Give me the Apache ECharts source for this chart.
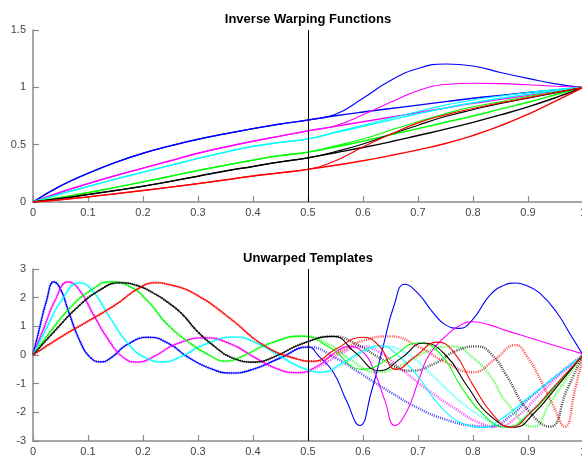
<!DOCTYPE html>
<html><head><meta charset="utf-8">
<script src="https://cdn.jsdelivr.net/npm/echarts@6/dist/echarts.min.js"></script>
<style>html,body{margin:0;padding:0;background:#fff}#c{width:582px;height:458px}</style>
</head><body><div id="c"></div>
<script>
// ---------- Top: inverse warping functions ----------
const xsTop = [0,0.05,0.1,0.15,0.2,0.25,0.3,0.35,0.4,0.45,0.5,0.55,0.6,0.65,0.7,0.75,0.8,0.85,0.9,0.95,1];
const warpBlue    = [0,0.14,0.25,0.345,0.425,0.49,0.547,0.595,0.64,0.68,0.715,0.752,0.785,0.815,0.845,0.875,0.905,0.93,0.955,0.978,1];
const warpMagenta = [0,0.085,0.16,0.23,0.295,0.36,0.425,0.48,0.53,0.575,0.62,0.66,0.7,0.74,0.78,0.82,0.86,0.895,0.93,0.965,1];
const warpCyan    = [0,0.07,0.135,0.2,0.26,0.32,0.38,0.435,0.485,0.52,0.55,0.605,0.66,0.715,0.77,0.82,0.865,0.905,0.94,0.972,1];
const warpGreen   = [0,0.04,0.082,0.128,0.175,0.225,0.275,0.32,0.365,0.405,0.435,0.48,0.53,0.585,0.64,0.695,0.75,0.81,0.87,0.935,1];
const warpBlack   = [0,0.03,0.065,0.1,0.137,0.18,0.225,0.27,0.31,0.35,0.385,0.43,0.475,0.525,0.58,0.635,0.695,0.76,0.83,0.91,1];
const warpRed     = [0,0.02,0.045,0.072,0.1,0.13,0.16,0.193,0.227,0.255,0.285,0.32,0.36,0.405,0.455,0.51,0.58,0.665,0.765,0.88,1];
// estimated warps after the cut (x = 0.55 ... 1)
const estBlue    = [0.765,0.905,1.06,1.165,1.203,1.186,1.13,1.078,1.03,1];
const estMagenta = [0.665,0.76,0.87,0.97,1.025,1.035,1.032,1.022,1.01,1];
const estCyan    = [0.61,0.67,0.73,0.79,0.845,0.89,0.925,0.955,0.98,1];
const estGreen   = [0.49,0.55,0.625,0.7,0.77,0.83,0.875,0.92,0.96,1];
const estBlack   = [0.44,0.505,0.59,0.67,0.745,0.805,0.86,0.905,0.952,1];
const estRed     = [0.36,0.48,0.59,0.69,0.76,0.815,0.865,0.91,0.955,1];

// ---------- Bottom: unwarped templates ----------
const noisyBlue = [[0,0],[0.012,0.95],[0.024,1.85],[0.038,2.55],[0.05,2.3],[0.065,1.5],[0.085,0.5],[0.105,-0.1],[0.125,-0.24],[0.145,-0.05],[0.17,0.35],[0.21,0.62],[0.245,0.42],[0.28,-0.05],[0.32,-0.45],[0.36,-0.63],[0.4,-0.5],[0.45,-0.1],[0.5,0.28],[0.55,-0.1],[0.6,-0.7],[0.65,-1.3],[0.7,-1.85],[0.75,-2.25],[0.8,-2.47],[0.83,-2.5],[0.87,-2.1],[0.9,-1.55],[0.95,-0.75],[1,0]];
const noisyMagenta = [[0,0],[0.02,0.95],[0.04,1.9],[0.064,2.55],[0.085,2.25],[0.11,1.4],[0.14,0.45],[0.165,-0.1],[0.19,-0.25],[0.22,-0.05],[0.26,0.38],[0.313,0.6],[0.36,0.38],[0.4,-0.05],[0.44,-0.45],[0.48,-0.62],[0.52,-0.4],[0.56,0.05],[0.595,0.3],[0.63,0.1],[0.67,-0.5],[0.72,-1.25],[0.77,-1.9],[0.81,-2.35],[0.845,-2.5],[0.88,-2.15],[0.92,-1.4],[0.96,-0.65],[1,0]];
const noisyCyan = [[0,0],[0.025,0.95],[0.05,1.85],[0.085,2.52],[0.11,2.2],[0.14,1.3],[0.175,0.35],[0.205,-0.1],[0.237,-0.24],[0.27,-0.05],[0.31,0.35],[0.367,0.63],[0.41,0.38],[0.45,-0.05],[0.49,-0.45],[0.525,-0.6],[0.56,-0.35],[0.6,0.1],[0.64,0.3],[0.68,0.05],[0.72,-0.6],[0.77,-1.5],[0.82,-2.2],[0.865,-2.5],[0.9,-2.05],[0.95,-1.05],[1,0]];
const noisyGreen = [[0,0],[0.035,0.9],[0.07,1.7],[0.105,2.25],[0.14,2.55],[0.175,2.4],[0.21,1.85],[0.245,1.05],[0.29,0.35],[0.32,0.0],[0.349,-0.22],[0.38,-0.05],[0.43,0.4],[0.49,0.66],[0.54,0.35],[0.58,-0.2],[0.625,-0.6],[0.67,-0.35],[0.72,0.15],[0.765,0.3],[0.8,-0.1],[0.831,-0.72],[0.861,-1.65],[0.91,-2.5],[0.94,-1.67],[0.97,-0.83],[1,0]];
const noisyBlack = [[0,0],[0.04,0.85],[0.08,1.65],[0.12,2.25],[0.158,2.52],[0.19,2.42],[0.22,2.15],[0.245,1.84],[0.27,1.45],[0.3,0.8],[0.33,0.3],[0.36,-0.08],[0.404,-0.25],[0.44,-0.05],[0.49,0.4],[0.546,0.65],[0.59,0.35],[0.64,-0.2],[0.686,-0.55],[0.73,-0.3],[0.77,0.15],[0.807,0.3],[0.835,0.0],[0.861,-0.72],[0.898,-1.88],[0.94,-2.5],[0.97,-1.25],[1,0]];
const noisyRed = [[0,0],[0.05,0.62],[0.1,1.18],[0.15,1.75],[0.19,2.3],[0.222,2.52],[0.245,2.47],[0.3,2.07],[0.36,1.25],[0.42,0.33],[0.48,-0.14],[0.51,-0.22],[0.55,0.05],[0.6,0.5],[0.649,0.65],[0.7,0.3],[0.75,-0.25],[0.8,-0.6],[0.84,-0.15],[0.877,0.35],[0.9,-0.1],[0.922,-0.84],[0.946,-1.77],[0.967,-2.5],[0.985,-1.25],[1,0]];
// smooth template tails after the cut
const tailBlue = [[0.52,-0.05],[0.546,-0.6],[0.57,-1.6],[0.594,-2.46],[0.615,-1.3],[0.637,0.33],[0.656,1.7],[0.676,2.47],[0.7,2.15],[0.727,1.49],[0.75,1.05],[0.775,0.93],[0.8,1.25],[0.83,2.07],[0.855,2.42],[0.877,2.51],[0.9,2.4],[0.922,2.15],[0.952,1.49],[0.976,0.75],[1,0]];
const tailMagenta = [[0.52,-0.35],[0.55,0.1],[0.575,0.3],[0.6,0.1],[0.62,-0.55],[0.64,-1.6],[0.658,-2.46],[0.68,-1.95],[0.7,-0.95],[0.72,0.0],[0.75,0.65],[0.775,1.02],[0.8,1.16],[0.83,1.05],[0.861,0.85],[0.9,0.62],[0.95,0.32],[1,0.04]];
const tailCyan = [[0.525,-0.6],[0.56,-0.3],[0.6,0.15],[0.63,0.33],[0.66,0.05],[0.7,-0.75],[0.73,-1.55],[0.76,-2.15],[0.79,-2.45],[0.815,-2.53],[0.85,-2.25],[0.9,-1.5],[0.95,-0.75],[1,0]];
const tailGreen = [[0.54,0.25],[0.6,-0.5],[0.65,-0.1],[0.7,0.42],[0.74,0.05],[0.78,-1.15],[0.82,-2.1],[0.86,-2.52],[0.9,-2.1],[0.95,-1.1],[1,0]];
const tailBlack = [[0.585,0.1],[0.63,-0.55],[0.67,-0.1],[0.71,0.42],[0.75,0.0],[0.79,-1.1],[0.83,-2.1],[0.876,-2.52],[0.91,-2.05],[0.955,-1.05],[1,0]];
const tailRed = [[0.55,0.2],[0.6,0.62],[0.63,0.3],[0.66,-0.5],[0.695,-0.05],[0.735,0.45],[0.765,0.1],[0.8,-1.05],[0.835,-2.05],[0.868,-2.52],[0.905,-2.0],[0.95,-1.05],[1,0]];

const cutX = 0.5;
const titles = ['Inverse Warping Functions', 'Unwarped Templates'];
const xTicks = [0,0.1,0.2,0.3,0.4,0.5,0.6,0.7,0.8,0.9,1];

const COL = {blue:'#0000ff', magenta:'#ff00ff', cyan:'#00ffff', green:'#00ff00', black:'#000000', red:'#ff0000'};
const topSets = [
  ['blue', warpBlue, estBlue], ['magenta', warpMagenta, estMagenta], ['cyan', warpCyan, estCyan],
  ['green', warpGreen, estGreen], ['black', warpBlack, estBlack], ['red', warpRed, estRed]
];
const botSets = [
  ['blue', noisyBlue, tailBlue], ['magenta', noisyMagenta, tailMagenta], ['cyan', noisyCyan, tailCyan],
  ['green', noisyGreen, tailGreen], ['black', noisyBlack, tailBlack], ['red', noisyRed, tailRed]
];

const SM = 0.5;
const seriesList = [];
topSets.forEach(([c, w, e]) => {
  const trueData = xsTop.map((x, i) => [x, w[i]]);
  const cutIdx = xsTop.indexOf(cutX);
  const estData = xsTop.slice(0, cutIdx + 1).map((x, i) => [x, w[i]])
    .concat(xsTop.slice(cutIdx + 1).map((x, i) => [x, e[i]]));
  seriesList.push({type:'line', xAxisIndex:0, yAxisIndex:0, data:trueData, smooth:SM, symbol:'none',
    lineStyle:{color:COL[c], width:1.4}, z:3, silent:true});
  seriesList.push({type:'line', xAxisIndex:0, yAxisIndex:0, data:estData, smooth:SM, symbol:'none',
    lineStyle:{color:COL[c], width:1.1}, z:3, silent:true});
});
botSets.forEach(([c, n, t]) => {
  seriesList.push({type:'line', xAxisIndex:1, yAxisIndex:1, data:n, smooth:SM, symbol:'none',
    lineStyle:{color:COL[c], width:2.4, type:[1,1.2], opacity:0.72}, z:2, silent:true});
  const solid = n.filter(p => p[0] < t[0][0]).concat(t);
  seriesList.push({type:'line', xAxisIndex:1, yAxisIndex:1, data:solid, smooth:SM, symbol:'none',
    lineStyle:{color:COL[c], width:1.1}, z:3, silent:true});
});
// vertical cut lines
seriesList.push({type:'line', xAxisIndex:0, yAxisIndex:0, data:[], markLine:{silent:true, symbol:'none', label:{show:false},
  lineStyle:{color:'#000', width:1, type:'solid'}, data:[{xAxis:cutX}]}});
seriesList.push({type:'line', xAxisIndex:1, yAxisIndex:1, data:[], markLine:{silent:true, symbol:'none', label:{show:false},
  lineStyle:{color:'#000', width:1, type:'solid'}, data:[{xAxis:cutX}]}});

const FONT = '"Liberation Sans", Arial, sans-serif';
const axisLineDef = {show:true, onZero:false, lineStyle:{color:'#8a8a8a', width:1.5}};
const axisTickDef = {show:true, inside:true, length:6, lineStyle:{color:'#8a8a8a', width:1.2}};
const xAxisDef = (gi) => ({type:'value', gridIndex:gi, min:0, max:1, interval:0.1,
  axisLine:axisLineDef, axisTick:axisTickDef, splitLine:{show:false},
  axisLabel:{color:'#444', fontSize:11, fontFamily:FONT, margin:5, hideOverlap:false,
    formatter:(v)=> { const m = xTicks.find(t => Math.abs(t - v) < 1e-9); return m === undefined ? '' : String(m); }}});
const yAxisDef = (gi, mn, mx, iv) => ({type:'value', gridIndex:gi, min:mn, max:mx, interval:iv,
  axisLine:axisLineDef, axisTick:axisTickDef, splitLine:{show:false},
  axisLabel:{color:'#444', fontSize:11, fontFamily:FONT, margin:7}});

const option = {
  animation:false,
  backgroundColor:'#fff',
  grid:[{left:33, top:30, width:550, height:172, containLabel:false, outerBoundsMode:'none'},
        {left:33, top:269, width:550, height:172, containLabel:false, outerBoundsMode:'none'}],
  xAxis:[xAxisDef(0), xAxisDef(1)],
  yAxis:[yAxisDef(0, 0, 1.5, 0.5), yAxisDef(1, -3, 3, 1)],
  graphic:[
    {type:'text', x:308, y:19, style:{text:titles[0], fill:'#000', font:'bold 13px ' + FONT, align:'center', verticalAlign:'middle', textAlign:'center', textVerticalAlign:'middle'}},
    {type:'text', x:308, y:258, style:{text:titles[1], fill:'#000', font:'bold 13px ' + FONT, align:'center', verticalAlign:'middle', textAlign:'center', textVerticalAlign:'middle'}}
  ],
  series:seriesList
};
const chart = echarts.init(document.getElementById('c'), null, {renderer:'canvas'});
chart.setOption(option);
</script>
</body></html>
